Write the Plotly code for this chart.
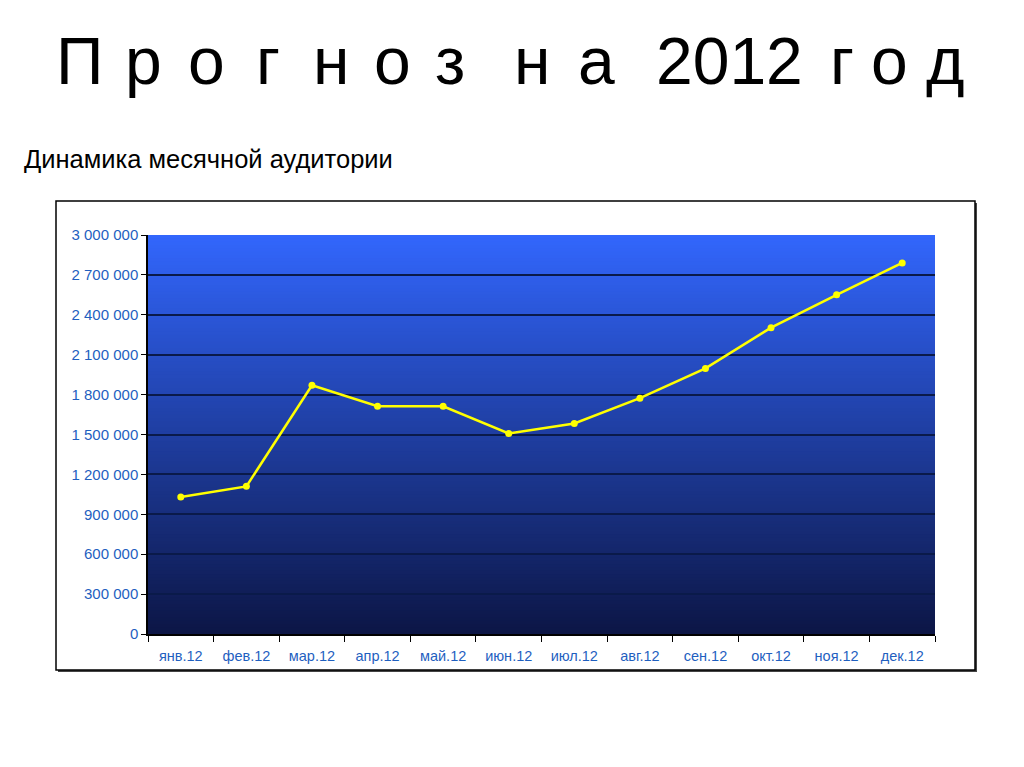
import plotly.graph_objects as go

months = ["янв.12", "фев.12", "мар.12", "апр.12", "май.12", "июн.12",
          "июл.12", "авг.12", "сен.12", "окт.12", "ноя.12", "дек.12"]
audience = [1030000, 1110000, 1870000, 1712000, 1712000, 1508000,
            1583000, 1773000, 1997000, 2303000, 2550000, 2790000]

title_parts = ["П", "р", "о", "г", "н", "о", "з", "н", "а", "2012", "г", "о", "д"]
title_part_x = [79, 143, 206, 268, 331, 392, 450, 532, 596, 729, 842, 889, 945]
subtitle = "Динамика месячной аудитории"

OFF = 8  # page body margin
W, H = 1008, 751
SL, SR, ST, SB = 148, 935, 235, 634
L, T = SL - OFF, ST - OFF
R = W - (SR - OFF)
B = H - (SB - OFF)
pw, ph = W - L - R, H - T - B

def px(x):
    return (x - OFF - L) / pw

def py(y):
    return (H - B - (y - OFF)) / ph

fig = go.Figure()
fig.add_trace(go.Scatter(
    x=months, y=audience, mode="lines+markers",
    line=dict(color="#FFFF00", width=2.5),
    marker=dict(color="#FFFF00", size=7),
    cliponaxis=False, hoverinfo="skip"))

shapes = []
shapes.append(dict(type="rect", xref="paper", yref="paper",
                   x0=px(58), x1=px(977), y0=py(203), y1=py(672),
                   fillcolor="#444444", line=dict(width=0), layer="below"))
shapes.append(dict(type="rect", xref="paper", yref="paper",
                   x0=px(56), x1=px(975), y0=py(201), y1=py(670),
                   fillcolor="white", line=dict(color="black", width=1.5), layer="below"))
top = (50, 102, 252)
bot = (12, 22, 70)
n = 120
for i in range(n):
    f = i / (n - 1)
    c = tuple(round(top[k] + (bot[k] - top[k]) * f) for k in range(3))
    shapes.append(dict(type="rect", xref="x domain", yref="y domain",
                       x0=0, x1=1, y0=1 - i / n, y1=1 - (i + 1) / n - 0.002,
                       fillcolor="rgb(%d,%d,%d)" % c, line=dict(width=0), layer="below"))

annotations = []
for part, cx in zip(title_parts, title_part_x):
    annotations.append(dict(text=part, xref="paper", yref="paper",
                            x=px(cx), y=py(61), xanchor="center", yanchor="middle",
                            showarrow=False,
                            font=dict(family="Liberation Sans, Arial", size=66, color="black")))
annotations.append(dict(text=subtitle, xref="paper", yref="paper",
                        x=px(22), y=py(159), xanchor="left", yanchor="middle", showarrow=False,
                        font=dict(family="Liberation Sans, Arial", size=25.5, color="black")))

fig.update_layout(
    width=W, height=H,
    margin=dict(l=L, r=R, t=T, b=B),
    paper_bgcolor="white", plot_bgcolor="rgba(0,0,0,0)",
    showlegend=False,
    separators=". ",
    shapes=shapes,
    annotations=annotations,
    font=dict(family="Liberation Sans, Arial, sans-serif", color="#1F5FBF", size=13),
)
fig.update_xaxes(
    type="category", range=[-0.5, len(months) - 0.5],
    tickson="boundaries", ticks="outside", ticklen=6, ticklabelstandoff=8,
    tickcolor="black", showline=True, linecolor="black", linewidth=1.5,
    showgrid=False, tickfont=dict(size=14.5, color="#1F5FBF"), fixedrange=True)
fig.update_yaxes(
    range=[0, 3000000], dtick=300000, tickformat=",d", ticks="outside", ticklen=5,
    tickcolor="black", showline=True, linecolor="black", linewidth=1.5,
    showgrid=True, gridcolor="#0A1A4A", gridwidth=1.5, zeroline=False,
    tickfont=dict(size=15, color="#1F5FBF"), fixedrange=True)

fig.write_html("out.html", config={"displayModeBar": False})
